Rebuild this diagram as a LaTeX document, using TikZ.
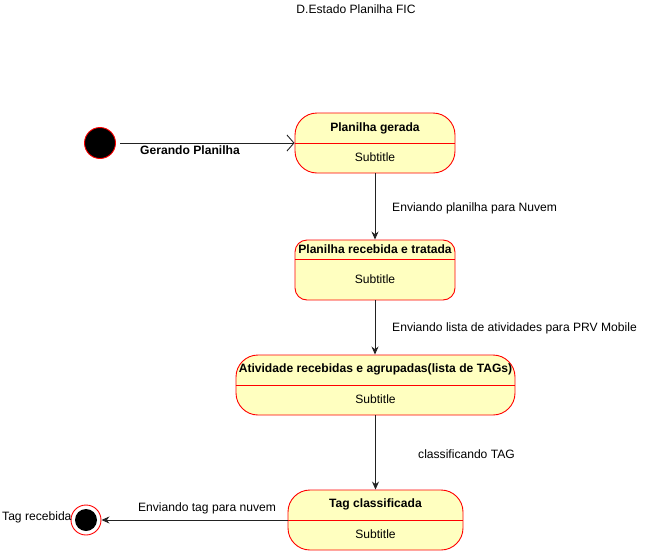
\documentclass[tikz,border=0pt]{standalone}
\usepackage{fontspec}
\setmainfont{Liberation Sans}
\usetikzlibrary{arrows.meta}
\definecolor{stfill}{HTML}{FFFFC0}
\definecolor{edgec}{HTML}{222222}
\tikzset{
  statebox/.style={draw=red, fill=stfill, line width=0.9pt, inner sep=0pt},
  divline/.style={draw=red, line width=0.9pt},
  lbl/.style={font=\fontsize{12.1pt}{14pt}\selectfont, inner sep=0pt},
  blbl/.style={lbl, font=\fontsize{12.1pt}{14pt}\selectfont\bfseries},
  edge/.style={draw=edgec, line width=0.9pt, -{Stealth[length=8pt,width=7pt]}},
  openedge/.style={draw=edgec, line width=0.9pt, -{Straight Barb[length=7pt,width=16pt]}},
}
\begin{document}
\begin{tikzpicture}[x=1pt,y=-1pt]
\useasboundingbox (0,0) rectangle (651,552);
\node[lbl] (title) at (356,9) {D.Estado Planilha FIC};
% initial
\node[circle, draw=red, fill=black, line width=0.9pt, minimum size=31pt, inner sep=0pt] (init) at (100,143) {};
% box 1
\node[statebox, rounded corners=22pt, minimum width=160pt, minimum height=60pt] (b1) at (375,143) {};
\draw[divline] (b1.west) -- (b1.east);
\node[blbl] (b1t) at (375,128) {Planilha gerada};
\node[lbl] (b1s) at (375,157) {Subtitle};
% box 2
\node[statebox, rounded corners=12pt, minimum width=160pt, minimum height=60pt] (b2) at (375,270) {};
\coordinate (b2l) at (295,259);
\coordinate (b2r) at (455,259);
\draw[divline] (b2l) -- (b2r);
\node[blbl] (b2t) at (375,249) {Planilha recebida e tratada};
\node[lbl] (b2s) at (375,279) {Subtitle};
% box 3
\node[statebox, rounded corners=22pt, minimum width=279pt, minimum height=60pt] (b3) at (375.5,385) {};
\draw[divline] (b3.west) -- (b3.east);
\node[blbl] (b3t) at (375.5,369) {Atividade recebidas e agrupadas(lista de TAGs)};
\node[lbl] (b3s) at (375.5,399) {Subtitle};
% box 4
\node[statebox, rounded corners=22pt, minimum width=175pt, minimum height=60pt] (b4) at (375.5,520) {};
\draw[divline] (b4.west) -- (b4.east);
\node[blbl] (b4t) at (375.5,504) {Tag classificada};
\node[lbl] (b4s) at (375.5,534) {Subtitle};
% final
\node[circle, draw=red, fill=white, line width=0.9pt, minimum size=30pt, inner sep=0pt] (fin) at (86,520) {};
\node[circle, fill=black, minimum size=22pt, inner sep=0pt] (finin) at (86,520) {};
\node[lbl, anchor=west] (finl) at (2,517) {Tag recebida};
% edges
\coordinate (s0) at (120,143);
\draw[openedge] (s0) -- (b1.west);
\node[blbl] (e1) at (190,150) {Gerando Planilha};
\draw[edge] (b1.south) -- (b2.north);
\node[lbl, anchor=west] (e2) at (392,208) {Enviando planilha para Nuvem};
\draw[edge] (b2.south) -- (b2.south |- b3.north);
\node[lbl, anchor=west] (e3) at (392,328) {Enviando lista de atividades para PRV Mobile};
\draw[edge] (b3.south) -- (b4.north);
\node[lbl, anchor=west] (e4) at (418,454) {classificando TAG};
\draw[edge] (b4.west) -- (fin.east);
\node[lbl] (e5) at (207,508) {Enviando tag para nuvem};
\end{tikzpicture}
\end{document}
